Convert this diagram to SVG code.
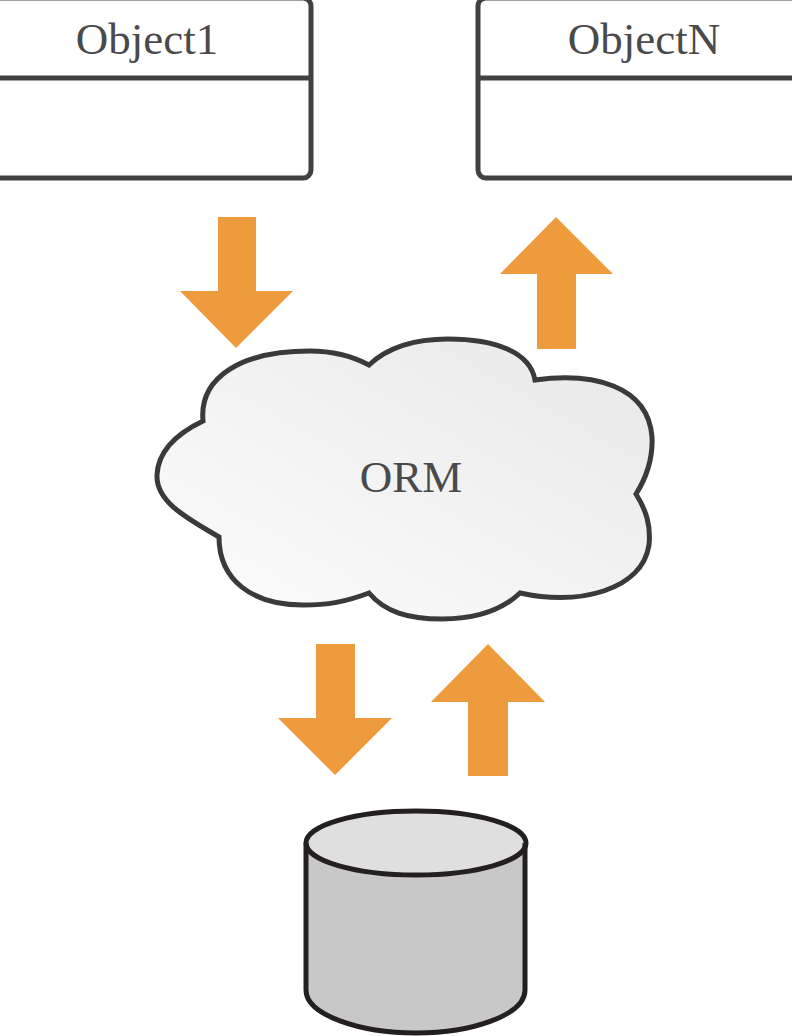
<svg xmlns="http://www.w3.org/2000/svg" width="792" height="1036" viewBox="0 0 792 1036">
<style>
.box{fill:#fff;stroke:#414143;stroke-width:5}
.lbl{font-family:"Liberation Serif",serif;font-size:45px;fill:#4a4a4c;text-anchor:middle}
.arr{fill:#ee9b3d}
.k{fill:none;stroke:#231f20;stroke-width:5}
</style>
<defs>
<linearGradient id="g" x1="0" y1="1" x2="1" y2="0"><stop offset="0" stop-color="#fdfdfd"/><stop offset="1" stop-color="#e8e8e9"/></linearGradient>
</defs>
<rect width="792" height="1036" fill="#fff"/>
<g id="object1">
<rect class="box" x="-12" y="-2" width="323" height="180" rx="8"/>
<line class="box" x1="-12" y1="78" x2="311" y2="78"/>
<text class="lbl" x="147" y="54">Object1</text>
</g>
<g id="objectN">
<rect class="box" x="478" y="-2" width="326" height="180" rx="8"/>
<line class="box" x1="478" y1="78" x2="804" y2="78"/>
<text class="lbl" x="644" y="54">ObjectN</text>
</g>
<g id="orm">
<path d="M203 421C199 378 240 351 310 351C335 351 352 356 369 365C388 347 415 339 448 339C495 339 530 352 535 380C592 372 648 385 652 437C653 458 648 475 636 494C646 510 651 525 649 545C642 590 580 606 520 593C500 612 472 619 442 619C408 619 385 612 369 593C345 602 328 605 303 605C252 605 219 580 219 537C187 518 156 502 157 475C158 452 176 434 203 421Z" fill="url(#g)" stroke="#3a3a3c" stroke-width="5"/>
<text class="lbl" x="411" y="492">ORM</text>
</g>
<g id="database">
<path d="M306 846V990C306 1015 360 1033 416 1033C472 1033 525 1015 525 990V846Z" fill="#c8c8c9"/>
<ellipse cx="416" cy="843" rx="110" ry="32" fill="#dfdfe0"/>
<path class="k" d="M306 843V990C306 1015 360 1033 416 1033C472 1033 525 1015 525 990V843"/>
<ellipse class="k" cx="416" cy="843" rx="110" ry="32"/>
</g>
<g id="connectors">
<polygon class="arr" points="218,217 256,217 256,291 293,291 236,348 180,291 218,291"/>
<polygon class="arr" points="537,349 576,349 576,274 613,274 556,217 500,274 537,274"/>
<polygon class="arr" points="316,644 355,644 355,718 392,718 335,775 278,718 316,718"/>
<polygon class="arr" points="468,776 508,776 508,702 545,702 488,644 431,702 468,702"/>
</g>
</svg>
